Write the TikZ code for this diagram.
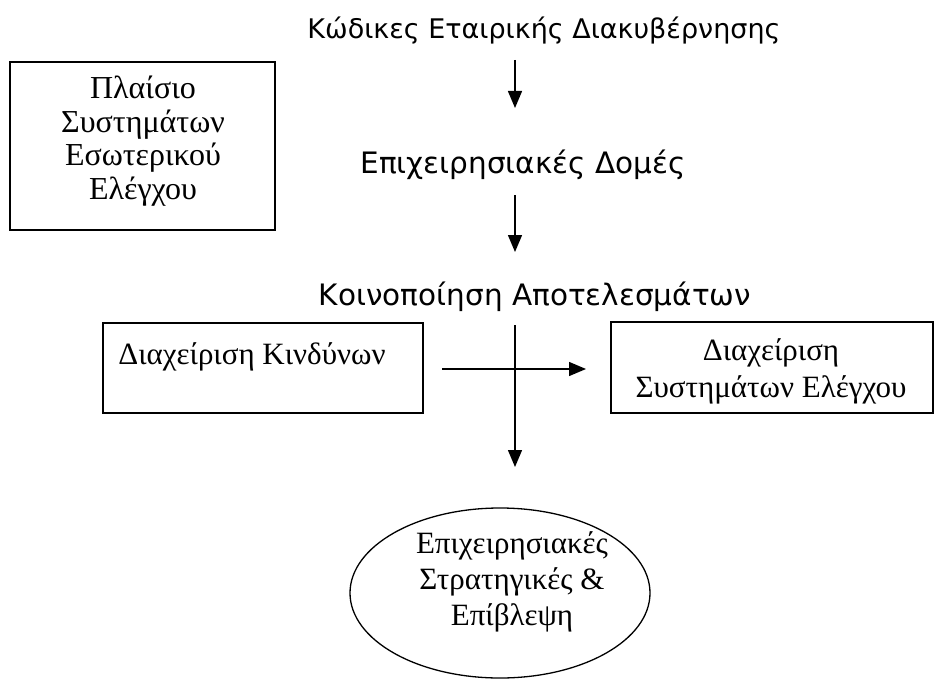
\documentclass[tikz,border=0pt]{standalone}
\usepackage{fontspec}
\setmainfont{Liberation Serif}
\newfontfamily\tahfont{DejaVu Sans}
\usetikzlibrary{arrows.meta,shapes.geometric}
\begin{document}
\begin{tikzpicture}[x=1pt,y=-1pt,
  sanslbl/.style={font=\tahfont\fontsize{29.5}{34}\selectfont, inner sep=0pt},
  seriftxt/.style={font=\fontsize{31}{37}\selectfont, align=center, inner sep=0pt},
  boxshape/.style={draw, line width=1.5pt, inner sep=0pt, rectangle},
  arr/.style={line width=1.4pt, -{Triangle[length=17pt,width=14pt]}}]
\useasboundingbox (0,0) rectangle (934,682);
\fill[white] (0,0) rectangle (934,682);

% top-left frame
\node[boxshape, minimum width=265pt, minimum height=168pt] (frame) at (142.5,146) {};
\node[seriftxt, font=\fontsize{32}{33.5}\selectfont] (frametxt) at (143,141) {Πλαίσιο\\Συστημάτων\\Εσωτερικού\\Ελέγχου};

% central flow texts
\node[sanslbl, font=\tahfont\fontsize{27}{32}\selectfont] (codes) at (544,31) {Κώδικες Εταιρικής Διακυβέρνησης};
\node[sanslbl] (struct) at (523,165) {Επιχειρησιακές Δομές};
\node[sanslbl] (report) at (535,297) {Κοινοποίηση Αποτελεσμάτων};

\coordinate (a1s) at (515,60);
\coordinate (a1e) at (515,108);
\coordinate (a2s) at (515,195);
\coordinate (a2e) at (515,252);
\coordinate (a3s) at (515,325);
\coordinate (a3e) at (515,467);
\coordinate (hs) at (442,369);
\coordinate (he) at (586,369);

% boxes
\node[boxshape, minimum width=320pt, minimum height=90pt] (risk) at (263,368) {};
\node[seriftxt] (risktxt) at (252,357) {Διαχείριση Κινδύνων};
\node[boxshape, minimum width=322pt, minimum height=91pt] (ctrl) at (772,367.5) {};
\node[seriftxt] (ctrltxt) at (771,371) {Διαχείριση\\Συστημάτων Ελέγχου};

% ellipse
\node[draw, ellipse, line width=1.3pt, minimum width=300pt, minimum height=170pt, inner sep=0pt] (strat) at (500,593) {};
\node[seriftxt, font=\fontsize{31}{36}\selectfont] (strattxt) at (512,582) {Επιχειρησιακές\\Στρατηγικές \&\\Επίβλεψη};

% arrows
\draw[arr] (a1s) -- (a1e);
\draw[arr] (a2s) -- (a2e);
\draw[arr] (a3s) -- (a3e);
\draw[arr] (hs) -- (he);
\end{tikzpicture}
\end{document}
